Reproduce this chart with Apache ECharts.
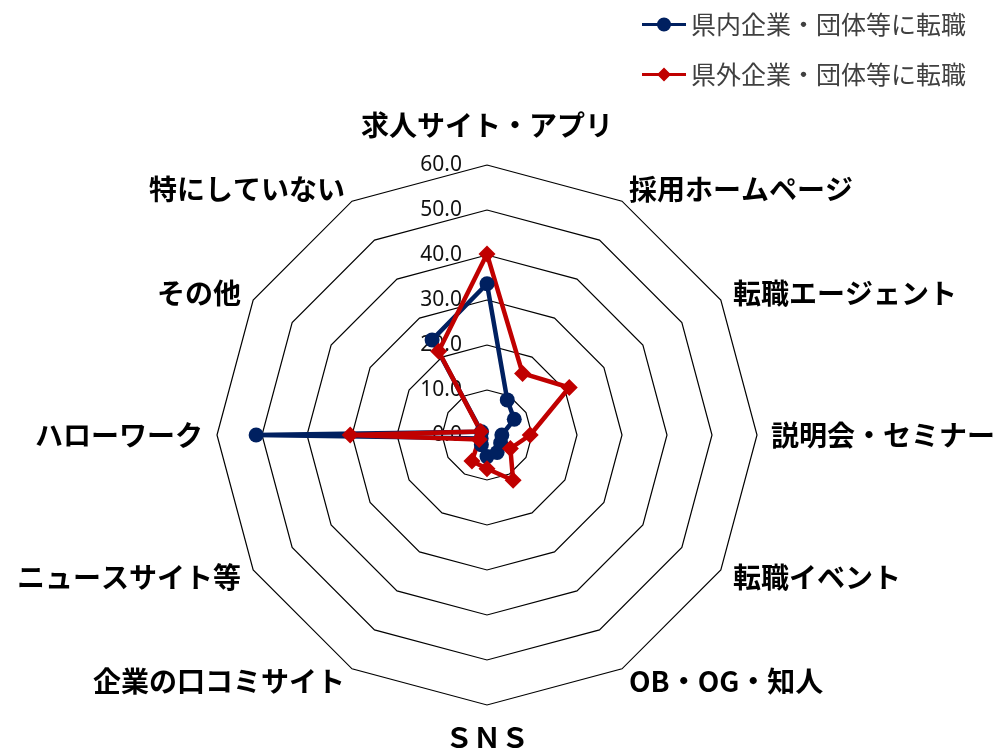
<!DOCTYPE html>
<html>
<head>
<meta charset="utf-8">
<script src="https://cdn.jsdelivr.net/npm/echarts@6/dist/echarts.min.js"></script>
<style>
  html, body { margin: 0; padding: 0; background: #fff; }
  #main { width: 1003px; height: 753px; }
</style>
</head>
<body>
<div id="main"></div>
<script>
// 項目（上から時計回り）
var categories = ['求人サイト・アプリ', '採用ホームページ', '転職エージェント', '説明会・セミナー', '転職イベント', 'OB・OG・知人', 'ＳＮＳ', '企業の口コミサイト', 'ニュースサイト等', 'ハローワーク', 'その他', '特にしていない'];
var seriesNames = ['県内企業・団体等に転職', '県外企業・団体等に転職'];
var inPref = [33.6, 9.0, 7.0, 3.3, 3.5, 4.5, 4.8, 2.5, 1.5, 51.3, 1.4, 24.4];
var outPref = [40.2, 15.8, 21.1, 9.6, 6.0, 11.6, 7.5, 6.7, 2.0, 30.4, 1.6, 21.5];
var axisMax = 60;

var font = '"Noto Sans CJK JP", "Noto Sans", sans-serif';

// echartsのレーダーは反時計回りなので順番を入れ替える
var order = [0];
for (var i = categories.length - 1; i > 0; i--) order.push(i);
function reorder(arr) { return order.map(function (k) { return arr[k]; }); }

var indicator = reorder(categories).map(function (name, idx) {
  var ind = { name: name, min: 0, max: axisMax };
  if (idx == 0) {
    // 目盛りラベルは一番上の軸だけ
    ind.axisLabel = {
      show: true,
      color: '#111',
      fontSize: 21,
      margin: 25,
      fontFamily: '"Noto Sans", sans-serif',
      formatter: function (v) { return v.toFixed(1); }
    };
  }
  return ind;
});

// 凡例アイコン（線＋マーカー）
var iconCircle = 'path://M0,5.5 L44,5.5 L44,8.5 L0,8.5 Z M15,7 A7,7 0 1,1 29,7 A7,7 0 1,1 15,7 Z';
var iconDiamond = 'path://M0,5.5 L44,5.5 L44,8.5 L0,8.5 Z M22,0 L29,7 L22,14 L15,7 Z';

var chart = echarts.init(document.getElementById('main'));
var option = {
  animation: false,
  backgroundColor: '#fff',
  legend: {
    orient: 'vertical',
    left: 637,
    top: 7,
    itemWidth: 44,
    itemHeight: 14,
    itemGap: 25,
    textStyle: { fontSize: 25, color: '#404040', fontFamily: font },
    data: [
      { name: seriesNames[0], icon: iconCircle },
      { name: seriesNames[1], icon: iconDiamond }
    ]
  },
  radar: {
    center: [487, 435],
    radius: 270,
    startAngle: 90,
    splitNumber: 6,
    shape: 'polygon',
    nameGap: 14,
    indicator: indicator,
    axisName: {
      color: '#000',
      fontSize: 28,
      fontWeight: 'bold',
      fontFamily: font,
      formatter: function (name) {
        if (name == categories[0]) return '{t|' + name + '}';
        if (name == categories[6]) return '{b|' + name + '}';
        return name;
      },
      rich: {
        t: { fontSize: 28, fontWeight: 'bold', fontFamily: font, color: '#000', padding: [0, 0, 12, 0] },
        b: { fontSize: 28, fontWeight: 'bold', fontFamily: font, color: '#000', padding: [4, 0, 0, 0] }
      }
    },
    axisLine: { show: false },
    axisTick: { show: false },
    axisLabel: { show: false },
    splitLine: { lineStyle: { color: '#000', width: 1.2 } },
    splitArea: { show: false }
  },
  series: [{
    type: 'radar',
    data: [
      {
        name: seriesNames[0],
        value: reorder(inPref),
        symbol: 'circle',
        symbolSize: 15,
        itemStyle: { color: '#002060' },
        lineStyle: { color: '#002060', width: 4.5 }
      },
      {
        name: seriesNames[1],
        value: reorder(outPref),
        symbol: 'diamond',
        symbolSize: 17,
        itemStyle: { color: '#C00000' },
        lineStyle: { color: '#C00000', width: 4.5 }
      }
    ]
  }]
};
chart.setOption(option);
</script>
</body>
</html>
